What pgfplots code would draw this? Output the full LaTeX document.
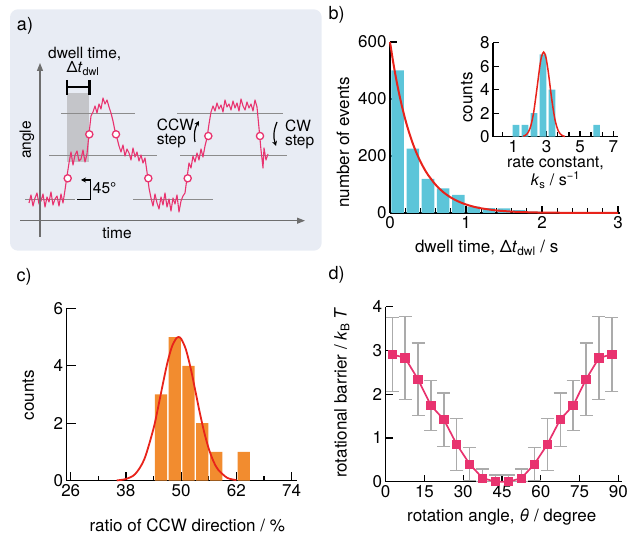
\documentclass[border=0pt]{standalone}
\usepackage{fontspec}
\setmainfont{TeX Gyre Heros}
\usepackage{pgfplots}
\pgfplotsset{compat=1.18}
\usetikzlibrary{arrows.meta}

\definecolor{cyanbar}{HTML}{5CC5D9}
\definecolor{orangebar}{HTML}{F28C2F}
\definecolor{fitred}{HTML}{E8231B}
\definecolor{pinkd}{HTML}{E8336F}
\definecolor{errgray}{HTML}{ABABAB}
\definecolor{bgA}{HTML}{E8ECF4}
\definecolor{shadegray}{HTML}{C4C5C9}
\definecolor{levelgray}{HTML}{8C8C8C}
\definecolor{axgray}{HTML}{6E6E6E}

\newcommand\fa{\fontsize{15.5}{14}\selectfont}
\newcommand\fl{\fontsize{17}{19}\selectfont}
\newcommand\fs{\fontsize{16}{18}\selectfont}
\newcommand\fp{\fontsize{18}{20}\selectfont}

\pgfplotsset{
  panel/.style={
    scale only axis, anchor=south west,
    axis lines*=left,
    axis line style={line width=1.4pt},
    tick align=inside,
    major tick length=7pt, minor tick length=4.5pt,
    every tick/.style={black, line width=1.3pt},
    tick label style={font=\fl},
    /pgf/number format/assume math mode=true,
    clip=false,
  }
}

\begin{document}
\begin{tikzpicture}
\useasboundingbox (0pt,0pt) rectangle (627pt,535pt);
\fill[bgA, rounded corners=8pt] (10pt,284.3pt) rectangle (321.7pt,525.7pt);

% ---- a) schematic, image pixel coordinates
\begin{axis}[at={(0pt,0pt)}, anchor=south west, scale only axis,
  width=627pt, height=535pt, xmin=0, xmax=627, ymin=0, ymax=535,
  y dir=reverse, hide axis, clip=false]
\fill[shadegray] (66.7,93) rectangle (89.3,162);
\addplot[levelgray, line width=1pt] coordinates {(25,200) (75,200)};
\addplot[levelgray, line width=1pt] coordinates {(133,200) (213,200)};
\addplot[levelgray, line width=1pt] coordinates {(49,155.7) (157,155.7)};
\addplot[levelgray, line width=1pt] coordinates {(180,155.7) (287,155.7)};
\addplot[levelgray, line width=1pt] coordinates {(61,113.3) (135,113.3)};
\addplot[levelgray, line width=1pt] coordinates {(177,113.3) (283,113.3)};
\addplot[pinkd, line width=1.1pt, line join=round] coordinates {
 (29,203) (31,195) (33,206) (35,198) (37,193) (39,204) (41,201) (43,194)
 (45,207) (47,197) (49,202) (51,192) (53,205) (55,199) (57,196) (59,206)
 (61,194) (63,203) (65,190) (67,176) (69,163) (71,152) (73,165) (75,155)
 (77,151) (79,161) (81,159) (83,150) (85,162) (87,154) (89,134) (91,116)
 (93,112) (95,106) (97,113) (99,104) (101,109) (103,98) (105,104) (107,100)
 (109,107) (111,113) (113,121) (115,131) (117,138) (119,146) (121,152) (123,145)
 (125,156) (127,149) (129,153) (131,160) (133,148) (135,157) (137,152) (139,161)
 (141,155) (143,163) (145,158) (147,172) (149,188) (151,198) (153,206) (155,194)
 (157,203) (159,209) (161,197) (163,205) (165,193) (167,207) (169,199) (171,211)
 (173,198) (175,204) (177,195) (179,212) (181,201) (183,196) (185,193) (187,178)
 (189,163) (191,168) (193,156) (195,162) (197,153) (199,160) (201,149) (203,157)
 (205,146) (207,138) (209,124) (211,112) (213,106) (215,111) (217,103) (219,109)
 (221,105) (223,112) (225,100) (227,107) (229,104) (231,110) (233,101) (235,108)
 (237,103) (239,111) (241,99) (243,106) (245,110) (247,102) (249,108) (251,104)
 (253,111) (255,100) (257,107) (259,128) (261,150) (263,168) (264,148) (266,160)
 (268,154)};
\addplot[only marks, mark=*, mark size=3.6pt,
  mark options={fill=white, draw=pinkd, line width=1.3pt}] coordinates {
 (67.7,178.3) (89.3,134.3) (116,134.3) (148.3,178.3) (187.7,178.3)
 (208.3,136) (260,136)};
\draw[axgray, line width=1.3pt, -{Triangle[length=8pt,width=6pt]}] (40,237) -- (40,63);
\draw[axgray, line width=1.3pt, -{Triangle[length=8pt,width=6pt]}] (20,220.7) -- (305,220.7);
\draw[black, line width=2.4pt] (66.7,87.3) -- (89.3,87.3);
\draw[black, line width=2.4pt] (66.7,80) -- (66.7,95) (89.3,80) -- (89.3,95);
\draw[black, line width=1.2pt, -{Stealth[length=5pt,width=5pt]}]
  (77,199.5) -- (90.5,199.5) -- (90.5,180) -- (81,180);
\node[font=\fa] at (104.7,188.3) {45°};
\node[font=\fa] at (84.7,53.5) {dwell time,};
\node[font=\fa] at (83,69) {Δ\textit{t}\textsubscript{dwl}};
\node[font=\fa, rotate=90] at (27,140) {angle};
\node[font=\fa] at (117,233) {time};
\node[font=\fa, anchor=west, align=left, inner sep=0pt] at (156.7,133) {CCW\\step};
\node[font=\fa, anchor=west, align=left, inner sep=0pt] at (285,134) {CW\\step};
\draw[black, line width=1.2pt, -{Stealth[length=5pt,width=5pt]}] (195,142) to[bend left=20] (199,121);
\draw[black, line width=1.2pt, -{Stealth[length=5pt,width=5pt]}] (277,122) to[bend right=20] (276,146);
\node[font=\fp] at (25,26) {a)};
\end{axis}

% ---- b) dwell time histogram
\begin{axis}[panel, at={(390pt,322pt)}, width=229.5pt, height=171pt,
  xmin=0, xmax=3.02, ymin=0, ymax=600,
  xtick={0,1,2,3}, minor x tick num=4, ytick={0,200,400,600}]
\addplot[ybar, bar width=0.165, bar shift=0pt, fill=cyanbar, draw=none] coordinates {
 (0.1,500) (0.3,226) (0.5,120) (0.7,86) (0.9,64) (1.1,22) (1.3,17) (1.5,16)
 (1.7,10) (1.9,5) (2.1,3) (2.3,2) (2.5,1) (2.7,1)};
\addplot[fitred, line width=2pt, smooth] coordinates {
 (0,600) (0.05,516.4) (0.1,444.5) (0.15,382.6) (0.2,329.3) (0.25,283.4)
 (0.3,243.9) (0.35,209.9) (0.4,180.7) (0.45,155.5) (0.5,133.9) (0.6,99.2)
 (0.7,73.5) (0.8,54.4) (0.9,40.3) (1.0,29.9) (1.1,22.1) (1.2,16.4) (1.4,9.0)
 (1.6,4.9) (1.8,2.7) (2.0,1.5) (2.5,0.3) (3.0,0.07)};
\end{axis}

% ---- b) inset rate constant
\begin{axis}[panel, at={(493pt,398.3pt)}, width=125.3pt, height=94pt,
  xmin=-0.22, xmax=7.3, ymin=0, ymax=8,
  major tick length=6pt, minor tick length=5pt,
  xticklabel style={inner sep=0.5pt, yshift=-3pt},
  xtick={1,3,5,7}, minor xtick={0.333,1.667,2.333,3.667,4.333,5.667,6.333},
  ytick={0,2,4,6,8}]
\addplot[ybar, bar width=0.4, bar shift=0pt, fill=cyanbar, draw=none] coordinates {
 (1.16,1) (1.70,1) (2.24,2) (2.78,7) (3.32,4) (6.0,1)};
\addplot[fitred, line width=1.5pt, smooth] coordinates {
 (1.6,0.04) (1.8,0.2) (2.0,0.7) (2.2,1.9) (2.4,3.91) (2.6,6.09) (2.7,6.85)
 (2.82,7.2) (2.95,6.79) (3.1,5.49) (3.3,3.24) (3.5,1.45) (3.7,0.49) (3.9,0.13)
 (4.1,0.02)};
\end{axis}

% ---- c) CCW ratio histogram
\begin{axis}[panel, at={(66.7pt,54.3pt)}, width=230pt, height=172.4pt,
  xmin=25.13, xmax=75.1, ymin=0, ymax=6,
  major tick length=9pt, minor tick length=4.5pt,
  xtick={26,38,50,62,74}, minor xtick={32,44,56,68}, ytick={0,2,4,6}]
\addplot[ybar, bar width=2.65, bar shift=0pt, fill=orangebar, draw=none] coordinates {
 (45.6,3) (48.6,5) (51.6,4) (54.6,2) (57.6,1) (63.6,1)};
\addplot[fitred, line width=1.8pt, smooth] coordinates {
 (36,0.01) (38,0.06) (40,0.23) (42,0.75) (44,1.82) (45,2.56) (46,3.35) (47,4.1)
 (48,4.67) (49,4.97) (49.4,5) (50,4.94) (51,4.58) (52,3.96) (53,3.19) (54,2.4)
 (55,1.69) (56,1.11) (57,0.68) (58,0.39) (60,0.1) (62,0.02)};
\end{axis}

% ---- d) rotational barrier
\begin{axis}[panel, at={(385.7pt,53.3pt)}, width=236pt, height=175pt,
  xmin=0, xmax=91.3, ymin=0, ymax=4,
  xtick={0,15,30,45,60,75,90}, ytick={0,1,2,3,4}]
\addplot[draw=none, mark=none,
  error bars/.cd, y dir=both, y explicit,
  error bar style={errgray, line width=1.3pt},
  error mark=-, error mark options={errgray, line width=1.3pt, mark size=6.5pt, rotate=90}]
  coordinates {
 (2.5,2.91) +- (0,0.85) (7.5,2.83) +- (0,0.95) (12.5,2.34) +- (0,0.83)
 (17.5,1.74) +- (0,0.57) (22.5,1.42) +- (0,0.61) (27.5,0.85) +- (0,0.60)
 (32.5,0.40) +- (0,0.38) (37.5,0.08) += (0,0.21) -= (0,0.08)
 (42.5,0) += (0,0.15) -= (0,0) (47.5,0) += (0,0.15) -= (0,0)
 (52.5,0.08) += (0,0.21) -= (0,0.08) (57.5,0.40) +- (0,0.38)
 (62.5,0.85) +- (0,0.60) (67.5,1.42) +- (0,0.61) (72.5,1.74) +- (0,0.57)
 (77.5,2.34) +- (0,0.83) (82.5,2.83) +- (0,0.95) (87.5,2.91) +- (0,0.85)};
\addplot[pinkd, line width=1.7pt, mark=square*, mark size=3.8pt,
  mark options={fill=pinkd, draw=pinkd}] coordinates {
 (2.5,2.91) (7.5,2.83) (12.5,2.34) (17.5,1.74) (22.5,1.42) (27.5,0.85)
 (32.5,0.40) (37.5,0.08) (42.5,0) (47.5,0) (52.5,0.08) (57.5,0.40)
 (62.5,0.85) (67.5,1.42) (72.5,1.74) (77.5,2.34) (82.5,2.83) (87.5,2.91)};
\end{axis}

% ---- labels
\node[font=\fp] at (336.7pt,520pt) {b)};
\node[font=\fp] at (24pt,258.3pt) {c)};
\node[font=\fp] at (336.7pt,260pt) {d)};
\node[font=\fl, rotate=90] at (343pt,392.5pt) {number of events};
\node[font=\fl] at (486.7pt,287pt) {dwell time, Δ\textit{t}\textsubscript{dwl} / s};
\node[font=\fl, rotate=90] at (466.7pt,437.5pt) {counts};
\node[font=\fs, inner sep=0pt] at (555.5pt,372pt) {rate constant,};
\node[font=\fs, inner sep=0pt] at (555.5pt,355pt)
  {\textit{k}\textsubscript{s} / s\textsuperscript{−1}};
\node[font=\fl, rotate=90] at (28.3pt,140pt) {counts};
\node[font=\fl] at (187.3pt,10pt) {ratio of CCW direction / \%};
\node[font=\fl, rotate=90] at (341.7pt,142pt) {rotational barrier / \textit{k}\textsubscript{B}\,\textit{T}};
\node[font=\fl] at (501.7pt,18.3pt) {rotation angle, \textit{θ} / degree};
\end{tikzpicture}
\end{document}
